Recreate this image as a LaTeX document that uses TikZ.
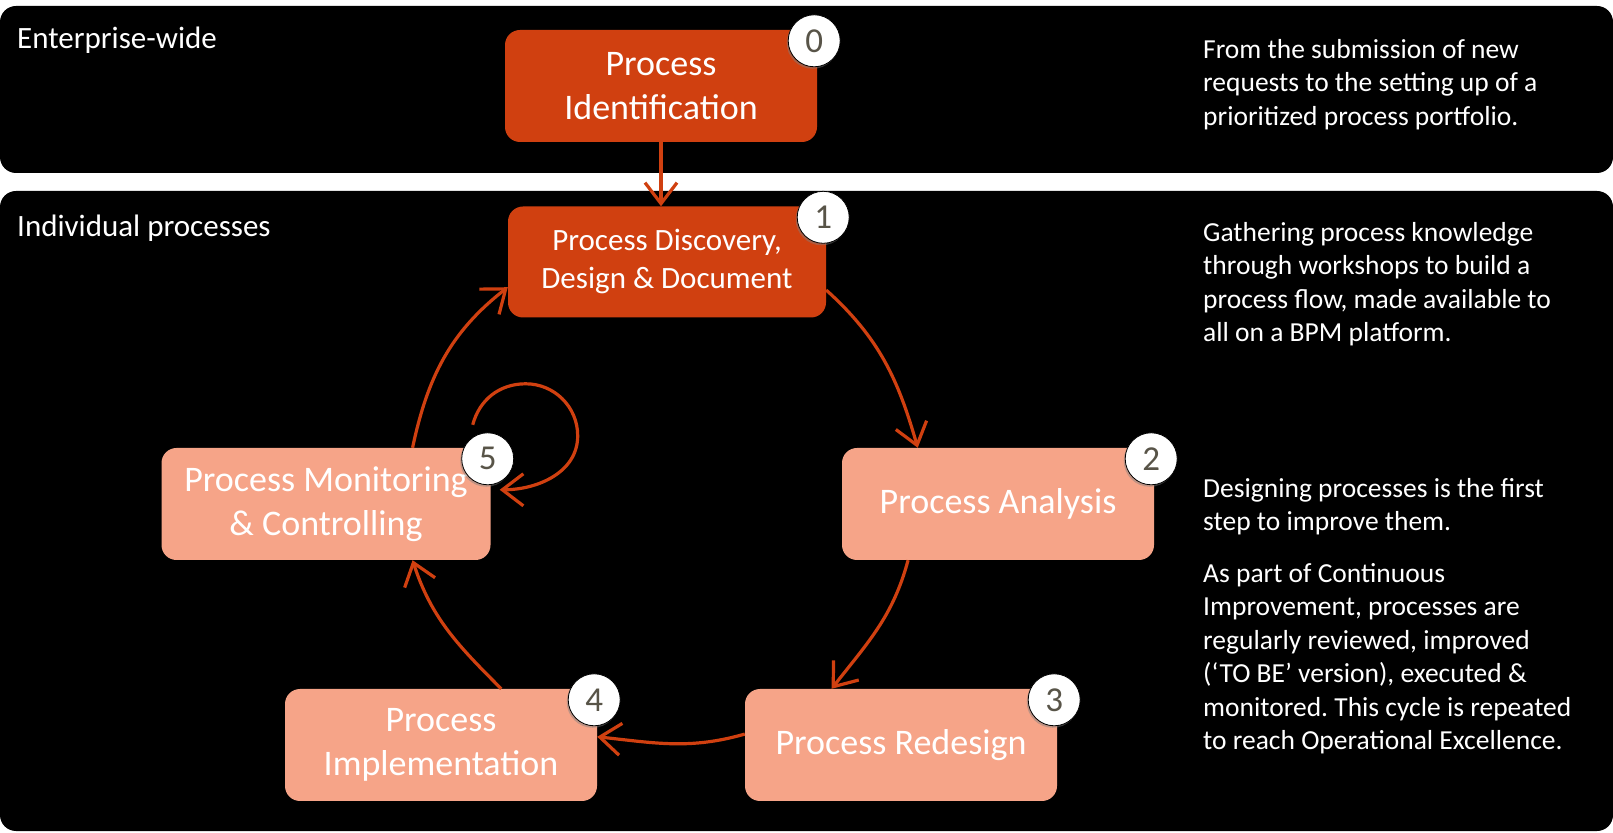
\documentclass[tikz,border=0pt]{standalone}
\usepackage{fontspec}
\setmainfont{Carlito}
\usetikzlibrary{arrows.meta,shadows}

\definecolor{bpmdark}{RGB}{208,64,16}
\definecolor{bpmlight}{RGB}{246,164,136}
\definecolor{digitgray}{RGB}{88,84,72}

\frenchspacing

\begin{document}
\begin{tikzpicture}[x=1pt, y=1pt]
  \tikzset{
    panel/.style={fill=black, rounded corners=16pt},
    level/.style={anchor=base west, inner sep=0pt, text=white, font=\fontsize{31}{37}\selectfont},
    stage/.style={rounded corners=15pt, minimum width=312pt, minimum height=112pt, inner sep=0pt,
      align=center, text=white, font=\fontsize{36}{44}\selectfont},
    hot/.style={stage, fill=bpmdark},
    soft/.style={stage, fill=bpmlight},
    badge/.style={circle, fill=white, draw=black, line width=0.8pt, minimum size=52pt, inner sep=0pt,
      text=digitgray, font=\fontsize{35}{40}\selectfont,
      drop shadow={shadow xshift=-1.5pt, shadow yshift=-2pt, opacity=0.45}},
    flow/.style={draw=bpmdark, line width=3.2pt, -{Straight Barb[length=21pt, width=32pt]}},
    note/.style={anchor=north west, inner sep=0pt, align=left, text=white,
      font=\fontsize{27.5}{33.5}\selectfont}
  }
  \useasboundingbox (0,0) rectangle (1613,832);
  \fill[white] (0,0) rectangle (1613,832);

  % the two bands
  \fill[panel] (0,659) rectangle (1613,826);
  \fill[panel] (0,1) rectangle (1613,641);
  \node[level] (lvl0) at (17,783) {Enterprise-wide};
  \node[level] (lvl1) at (17,595) {Individual processes};

  % stages
  \node[hot] (s0) at (661,746) {Process\\Identification};
  \node[hot, minimum width=318pt, minimum height=111pt, font=\fontsize{31}{38}\selectfont]
    (s1) at (667,570) {Process Discovery,\\Design \& Document};
  \node[soft] (s2) at (998,328) {Process Analysis};
  \node[soft] (s3) at (901,87) {Process Redesign};
  \node[soft] (s4) at (441,87) {Process\\Implementation};
  \node[soft, minimum width=329pt] (s5) at (326,328) {Process Monitoring\\\& Controlling};

  \foreach \i in {0,...,5}
    \node[badge] (n\i) at ([shift={(-3pt,-11pt)}]s\i.north east) {\i};

  % cycle
  \draw[flow] (s0.south) -- (s0.south |- s1.north);
  \draw[flow] (s1.-10) to[out=-42, in=106] (s2.145);
  \draw[flow] (s2.-148) to[out=-105, in=52] (s3.141);
  \draw[flow] (s3.176) to[out=196, in=-6] (s4.3);
  \draw[flow] (s4.43) to[out=135, in=-72] (s5.-33);
  \draw[flow] (s5.33) to[out=78, in=-142] (s1.189);

  \coordinate (loopin) at ([shift={(-15,34)}]n5.center);
  \coordinate (loopout) at ([shift={(12,-31)}]n5.center);
  \draw[flow] (loopin) to[out=75, in=180] ++(53,41) to[out=0, in=90] ++(52,-52)
    to[out=-90, in=0] (loopout);

  % notes
  \node[note] (t0) at (1203,797.5) {\strut From the submission of new\\requests to the setting up of a\\prioritized process portfolio.};
  \node[note] (t1) at (1203,614.5) {\strut Gathering process knowledge\\through workshops to build a\\process flow, made available to\\all on a BPM platform.};
  \node[note] (t2) at (1203,358.5) {\strut Designing processes is the first\\step to improve them.\\[18pt]
    As part of Continuous\\Improvement, processes are\\regularly reviewed, improved\\(‘TO BE’ version), executed \&\\monitored. This cycle is repeated\\to reach Operational Excellence.};
\end{tikzpicture}
\end{document}
